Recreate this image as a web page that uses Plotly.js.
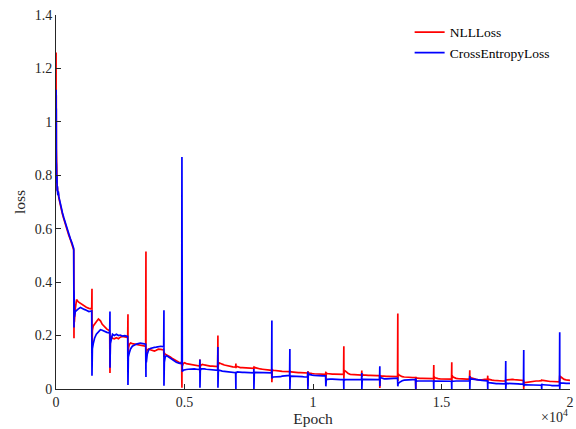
<!DOCTYPE html>
<html>
<head>
<meta charset="utf-8">
<script src="https://cdn.plot.ly/plotly-3.0.1.min.js"></script>
<style>
  html, body { margin: 0; padding: 0; background: #fff; }
  #chart { width: 576px; height: 429px; }
</style>
</head>
<body>
<div id="chart"></div>
<script>
// Warm-up phase (first 700 epochs), sampled densely
const warmupEpoch = [0, 3, 6, 10, 14, 20, 28, 36, 45, 55, 70, 90, 110, 140, 170, 210, 250, 300, 350, 400, 450, 500, 560, 620, 690];
const warmupNll = [1.20, 1.26, 0.98, 1.10, 0.90, 0.80, 0.76, 0.78, 0.745, 0.755, 0.73, 0.735, 0.715, 0.70, 0.685, 0.67, 0.655, 0.638, 0.62, 0.605, 0.59, 0.575, 0.56, 0.545, 0.52];
const warmupCe = [1.08, 1.12, 0.95, 1.05, 0.85, 0.84, 0.77, 0.80, 0.74, 0.76, 0.725, 0.74, 0.72, 0.705, 0.69, 0.675, 0.66, 0.642, 0.625, 0.61, 0.594, 0.578, 0.562, 0.547, 0.525];

// Learning-rate restarts every 700 epochs
const restartEpoch = [700, 1400, 2100, 2800, 3500, 4200, 4900, 5600, 6300, 7000, 7700, 8400, 9100, 9800,
  10500, 11200, 11900, 12600, 13300, 14000, 14700, 15400, 16100, 16800, 17500, 18200, 18900, 19600];
// Epochs after each restart at which the loss was logged
const stepAfterRestart = [0, 1, 15, 50, 100, 170, 250, 330, 400, 480, 580, 690];

// NLLLoss, one row per restart cycle
const nllLoss = [
  0.19, 0.29, 0.25, 0.30, 0.335, 0.326, 0.32, 0.317, 0.312, 0.306, 0.302, 0.30,
  0.375, 0.14, 0.22, 0.236, 0.245, 0.252, 0.262, 0.255, 0.242, 0.232, 0.224, 0.218,
  0.06, 0.20, 0.19, 0.196, 0.19, 0.188, 0.192, 0.188, 0.194, 0.197, 0.196, 0.193,
  0.28, 0.12, 0.15, 0.166, 0.172, 0.17, 0.168, 0.166, 0.165, 0.163, 0.162, 0.16,
  0.515, 0.12, 0.14, 0.146, 0.15, 0.147, 0.144, 0.142, 0.145, 0.149, 0.148, 0.146,
  0.12, 0.13, 0.135, 0.13, 0.128, 0.124, 0.12, 0.114, 0.11, 0.105, 0.10, 0.098,
  0.005, 0.10, 0.086, 0.095, 0.098, 0.095, 0.094, 0.093, 0.091, 0.09, 0.088, 0.086,
  0.11, 0.06, 0.085, 0.09, 0.092, 0.09, 0.088, 0.087, 0.086, 0.086, 0.085, 0.084,
  0.20, 0.07, 0.09, 0.098, 0.095, 0.093, 0.09, 0.088, 0.086, 0.085, 0.083, 0.082,
  0.095, 0.078, 0.085, 0.084, 0.082, 0.08, 0.08, 0.079, 0.079, 0.078, 0.078, 0.077,
  0.084, 0.075, 0.082, 0.08, 0.078, 0.076, 0.075, 0.074, 0.073, 0.072, 0.071, 0.07,
  0.025, 0.07, 0.072, 0.07, 0.069, 0.068, 0.067, 0.067, 0.066, 0.066, 0.066, 0.065,
  0.068, 0.062, 0.066, 0.064, 0.063, 0.062, 0.062, 0.061, 0.061, 0.06, 0.06, 0.06,
  0.01, 0.066, 0.062, 0.06, 0.058, 0.058, 0.057, 0.057, 0.056, 0.056, 0.056, 0.055,
  0.065, 0.03, 0.06, 0.058, 0.057, 0.057, 0.056, 0.056, 0.056, 0.055, 0.055, 0.055,
  0.16, 0.04, 0.07, 0.068, 0.063, 0.058, 0.055, 0.054, 0.054, 0.053, 0.053, 0.052,
  0.069, 0.045, 0.055, 0.053, 0.052, 0.051, 0.051, 0.051, 0.05, 0.05, 0.05, 0.05,
  0.004, 0.05, 0.05, 0.049, 0.048, 0.048, 0.047, 0.047, 0.047, 0.046, 0.046, 0.046,
  0.283, 0.03, 0.056, 0.052, 0.048, 0.046, 0.045, 0.044, 0.044, 0.043, 0.043, 0.043,
  0.0, 0.045, 0.04, 0.041, 0.04, 0.04, 0.04, 0.04, 0.04, 0.039, 0.039, 0.039,
  0.09, 0.03, 0.045, 0.042, 0.04, 0.039, 0.038, 0.038, 0.038, 0.038, 0.037, 0.037,
  0.10, 0.03, 0.05, 0.045, 0.042, 0.04, 0.039, 0.038, 0.038, 0.037, 0.037, 0.037,
  0.07, 0.03, 0.045, 0.042, 0.04, 0.038, 0.036, 0.034, 0.033, 0.034, 0.036, 0.036,
  0.05, 0.03, 0.038, 0.036, 0.034, 0.033, 0.032, 0.031, 0.03, 0.03, 0.03, 0.03,
  0.035, 0.03, 0.034, 0.034, 0.035, 0.036, 0.036, 0.035, 0.034, 0.034, 0.033, 0.032,
  0.0, 0.028, 0.024, 0.024, 0.025, 0.026, 0.027, 0.028, 0.029, 0.03, 0.03, 0.031,
  0.036, 0.03, 0.033, 0.032, 0.031, 0.03, 0.029, 0.028, 0.028, 0.028, 0.027, 0.027,
  0.05, 0.03, 0.048, 0.045, 0.04, 0.036, 0.034, 0.033, 0.032
];

// CrossEntropyLoss, one row per restart cycle
const ceLoss = [
  0.23, 0.37, 0.27, 0.29, 0.295, 0.30, 0.305, 0.30, 0.298, 0.295, 0.29, 0.292,
  0.05, 0.18, 0.15, 0.17, 0.19, 0.205, 0.215, 0.222, 0.22, 0.215, 0.212, 0.21,
  0.29, 0.08, 0.17, 0.19, 0.205, 0.20, 0.205, 0.20, 0.202, 0.198, 0.20, 0.197,
  0.015, 0.13, 0.12, 0.135, 0.15, 0.16, 0.165, 0.168, 0.17, 0.172, 0.17, 0.168,
  0.045, 0.11, 0.10, 0.13, 0.145, 0.152, 0.155, 0.156, 0.157, 0.158, 0.16, 0.158,
  0.295, 0.012, 0.10, 0.12, 0.125, 0.12, 0.115, 0.11, 0.105, 0.10, 0.097, 0.095,
  0.868, 0.08, 0.065, 0.07, 0.072, 0.073, 0.074, 0.075, 0.074, 0.075, 0.074, 0.073,
  0.11, 0.005, 0.07, 0.075, 0.076, 0.075, 0.074, 0.073, 0.072, 0.072, 0.071, 0.07,
  0.157, 0.005, 0.065, 0.07, 0.068, 0.067, 0.066, 0.065, 0.064, 0.063, 0.062, 0.061,
  0.0, 0.065, 0.06, 0.064, 0.063, 0.063, 0.062, 0.062, 0.062, 0.061, 0.061, 0.06,
  0.075, 0.0, 0.058, 0.062, 0.062, 0.061, 0.061, 0.06, 0.06, 0.06, 0.06, 0.06,
  0.256, 0.04, 0.042, 0.045, 0.045, 0.044, 0.045, 0.046, 0.048, 0.049, 0.05, 0.051,
  0.15, 0.0, 0.045, 0.048, 0.048, 0.047, 0.047, 0.046, 0.046, 0.046, 0.045, 0.045,
  0.065, 0.0, 0.052, 0.055, 0.053, 0.052, 0.051, 0.05, 0.05, 0.049, 0.049, 0.049,
  0.01, 0.04, 0.033, 0.036, 0.037, 0.037, 0.037, 0.036, 0.036, 0.036, 0.035, 0.035,
  0.0, 0.04, 0.033, 0.035, 0.035, 0.035, 0.035, 0.036, 0.036, 0.036, 0.036, 0.036,
  0.06, 0.0, 0.035, 0.036, 0.036, 0.036, 0.035, 0.035, 0.035, 0.035, 0.035, 0.035,
  0.085, 0.01, 0.045, 0.042, 0.04, 0.038, 0.038, 0.039, 0.04, 0.04, 0.041, 0.041,
  0.01, 0.02, 0.02, 0.024, 0.028, 0.031, 0.033, 0.034, 0.035, 0.035, 0.035, 0.035,
  0.0, 0.04, 0.028, 0.03, 0.03, 0.03, 0.03, 0.03, 0.03, 0.03, 0.03, 0.03,
  0.0, 0.032, 0.028, 0.03, 0.03, 0.03, 0.029, 0.029, 0.029, 0.029, 0.029, 0.029,
  0.0, 0.032, 0.028, 0.029, 0.03, 0.03, 0.03, 0.03, 0.03, 0.03, 0.03, 0.03,
  0.049, 0.0, 0.04, 0.038, 0.037, 0.036, 0.035, 0.034, 0.033, 0.032, 0.031, 0.03,
  0.0, 0.03, 0.025, 0.024, 0.023, 0.022, 0.021, 0.02, 0.02, 0.02, 0.019, 0.019,
  0.105, 0.0, 0.02, 0.021, 0.021, 0.02, 0.02, 0.019, 0.019, 0.019, 0.018, 0.018,
  0.146, 0.01, 0.015, 0.016, 0.016, 0.016, 0.015, 0.015, 0.015, 0.014, 0.014, 0.014,
  0.0, 0.02, 0.016, 0.016, 0.016, 0.015, 0.014, 0.014, 0.013, 0.013, 0.013, 0.013,
  0.212, 0.0, 0.024, 0.023, 0.022, 0.022, 0.021, 0.021, 0.021
];

const maxEpoch = 20000;

// Assemble the logged epochs for the restart cycles (last cycle stops at maxEpoch)
const cycleEpoch = [];
restartEpoch.forEach(function (start) {
  stepAfterRestart.forEach(function (step) {
    if (start + step <= maxEpoch) cycleEpoch.push(start + step);
  });
});

const epoch = warmupEpoch.concat(cycleEpoch);
const nll = warmupNll.concat(nllLoss);
const ce = warmupCe.concat(ceLoss);

const axisColor = '#262626';
const serif = 'Liberation Serif, Times New Roman, serif';

const traces = [
  {
    x: epoch, y: nll, type: 'scatter', mode: 'lines', name: 'NLLLoss',
    line: { color: '#ff0000', width: 1.7 }
  },
  {
    x: epoch, y: ce, type: 'scatter', mode: 'lines', name: 'CrossEntropyLoss',
    line: { color: '#0000ff', width: 1.7 }
  }
];

const layout = {
  width: 576,
  height: 429,
  margin: { l: 56, r: 6, t: 15, b: 40 },
  paper_bgcolor: '#ffffff',
  plot_bgcolor: '#ffffff',
  font: { family: serif, size: 14, color: axisColor },
  showlegend: true,
  legend: {
    x: 0.688, y: 0.995, xanchor: 'left', yanchor: 'top',
    bgcolor: 'rgba(0,0,0,0)', borderwidth: 0,
    font: { family: serif, size: 13.5, color: '#000000' },
    tracegroupgap: 0
  },
  xaxis: {
    range: [0, maxEpoch],
    tickvals: [0, 5000, 10000, 15000, 20000],
    ticktext: ['0', '0.5', '1', '1.5', '2'],
    ticks: 'inside', ticklen: 5, tickwidth: 1, tickcolor: axisColor,
    showline: true, linecolor: axisColor, linewidth: 1,
    showgrid: false, zeroline: false,
    tickfont: { family: serif, size: 14, color: axisColor },
    title: { text: 'Epoch', standoff: 3, font: { family: serif, size: 15.5, color: axisColor } }
  },
  yaxis: {
    range: [0, 1.4],
    tickvals: [0, 0.2, 0.4, 0.6, 0.8, 1, 1.2, 1.4],
    ticktext: ['0', '0.2', '0.4', '0.6', '0.8', '1', '1.2', '1.4'],
    ticks: 'inside', ticklen: 5, tickwidth: 1, tickcolor: axisColor,
    showline: true, linecolor: axisColor, linewidth: 1,
    showgrid: false, zeroline: false,
    tickfont: { family: serif, size: 14, color: axisColor },
    title: { text: 'loss', standoff: 5, font: { family: serif, size: 15.5, color: axisColor } }
  },
  annotations: [
    {
      text: '\u00d710<sup>4</sup>',
      xref: 'paper', yref: 'paper', x: 1, y: 0,
      xanchor: 'right', yanchor: 'top', yshift: -16,
      showarrow: false,
      font: { family: serif, size: 14, color: axisColor }
    }
  ]
};

Plotly.newPlot('chart', traces, layout, { displayModeBar: false, staticPlot: true });
</script>
</body>
</html>
